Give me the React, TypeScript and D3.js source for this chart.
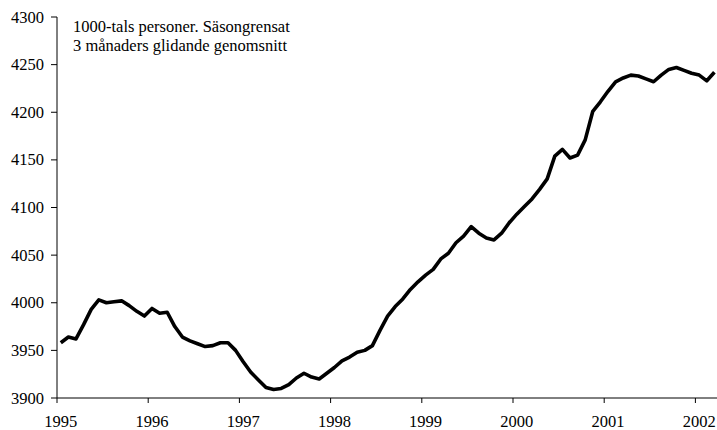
import React from "react";
import * as d3 from "d3";

const years = ["1995", "1996", "1997", "1998", "1999", "2000", "2001", "2002"];
const yTicks = [3900, 3950, 4000, 4050, 4100, 4150, 4200, 4250, 4300];
const v1995 = [3958, 3964, 3962, 3977, 3993, 4003, 4000, 4001, 4002, 3997, 3991, 3986];
const v1996 = [3994, 3989, 3990, 3975, 3964, 3960, 3957, 3954, 3955, 3958, 3958, 3950];
const v1997 = [3938, 3927, 3919, 3911, 3909, 3910, 3914, 3921, 3926, 3922, 3920, 3926];
const v1998 = [3932, 3939, 3943, 3948, 3950, 3955, 3971, 3986, 3996, 4004, 4014, 4022];
const v1999 = [4029, 4035, 4046, 4052, 4063, 4070, 4080, 4073, 4068, 4066, 4073, 4084];
const v2000 = [4093, 4101, 4109, 4119, 4130, 4154, 4161, 4152, 4155, 4171, 4201, 4211];
const v2001 = [4222, 4232, 4236, 4239, 4238, 4235, 4232, 4239, 4245, 4247, 4244, 4241];
const v2002 = [4239, 4233, 4242];
const noteLines = ["1000-tals personer. Säsongrensat", "3 månaders glidande genomsnitt"];

const values = [...v1995, ...v1996, ...v1997, ...v1998, ...v1999, ...v2000, ...v2001, ...v2002];

const W = 717;
const H = 430;
const left = 57;
const monthW = 7.6;
const top = 17;
const bottom = 398;
const textStyle: React.CSSProperties = {
  fontFamily: "'Liberation Serif', 'Times New Roman', serif",
  fontSize: "16.5px",
};

export default function App() {
  const x = d3.scaleLinear().domain([0, values.length]).range([left, left + values.length * monthW]);
  const y = d3.scaleLinear().domain([3900, 4300]).range([bottom, top]);
  const line = d3
    .line<number>()
    .x((_, i) => x(i + 0.5))
    .y((d) => y(d));

  return (
    <svg
      width={W}
      height={H}
      style={{ position: "absolute", left: 0, top: 0, background: "#fff" }}
    >
      <rect width={W} height={H} fill="#fff" />
      <line x1={left} x2={left} y1={y(4300)} y2={y(3900)} stroke="#000" strokeWidth={1} />
      {yTicks.map((t) => (
        <g key={t}>
          <line x1={left - 6} x2={left} y1={y(t)} y2={y(t)} stroke="#000" strokeWidth={1} />
          <text x={44} y={y(t) + 5.5} textAnchor="end" style={textStyle} fill="#000">
            {t}
          </text>
        </g>
      ))}
      <line x1={left} x2={W} y1={y(3900)} y2={y(3900)} stroke="#000" strokeWidth={1} />
      {years.map((yr, k) => (
        <g key={yr}>
          <line x1={x(k * 12)} x2={x(k * 12)} y1={y(3900)} y2={y(3900) + 5} stroke="#000" strokeWidth={1} />
          <text x={x(k * 12 + 0.5)} y={426.5} textAnchor="middle" style={textStyle} fill="#000">
            {yr}
          </text>
        </g>
      ))}
      {noteLines.map((t, i) => (
        <text key={i} x={73} y={31.5 + i * 19.5} style={textStyle} fill="#000">
          {t}
        </text>
      ))}
      <path d={line(values) || ""} fill="none" stroke="#000" strokeWidth={3.6} strokeLinejoin="round" />
    </svg>
  );
}
